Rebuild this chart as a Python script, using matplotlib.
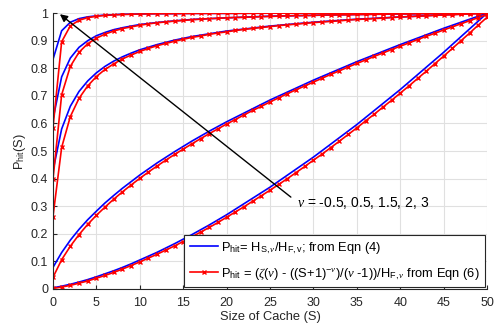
import matplotlib.pyplot as plt
import numpy as np

plt.rcParams['font.family'] = ['Liberation Sans', 'DejaVu Sans']
plt.rcParams['mathtext.fontset'] = 'custom'
plt.rcParams['mathtext.rm'] = 'Liberation Sans'
plt.rcParams['mathtext.it'] = 'Liberation Serif:italic'

# cache sizes (red markers at every integer S)
s_red = np.arange(0, 51)
# sparser S grid for the exact (blue) curves
s_blue = [0, 1, 2, 3, 4, 5, 6, 7, 8, 9, 10, 12, 14, 16, 18, 20, 25, 30, 35, 40, 45, 50]

# blue: H_{S,nu}/H_{F,nu}
blue_n3 = [0.832, 0.936, 0.967, 0.980, 0.9865, 0.990, 0.993, 0.994, 0.996, 0.996, 0.997,
           0.998, 0.998, 0.999, 0.999, 0.999, 1.0, 1.0, 1.0, 1.0, 1.0, 1.0]
blue_n2 = [0.615, 0.769, 0.837, 0.876, 0.900, 0.918, 0.930, 0.940, 0.947, 0.953, 0.9585,
           0.966, 0.972, 0.977, 0.980, 0.983, 0.989, 0.992, 0.995, 0.997, 0.999, 1.0]
blue_n15 = [0.4285, 0.580, 0.6625, 0.716, 0.754, 0.7835, 0.807, 0.826, 0.8415, 0.855, 0.867,
            0.886, 0.902, 0.915, 0.925, 0.935, 0.953, 0.967, 0.978, 0.986, 0.994, 1.0]
blue_n05 = [0.078, 0.132, 0.177, 0.216, 0.251, 0.282, 0.312, 0.339, 0.365, 0.389, 0.413,
            0.457, 0.4975, 0.536, 0.572, 0.606, 0.685, 0.757, 0.824, 0.886, 0.945, 1.0]
blue_nm05 = [0.004, 0.010, 0.017, 0.025, 0.034, 0.044, 0.055, 0.066, 0.078, 0.091, 0.105,
             0.133, 0.164, 0.197, 0.232, 0.269, 0.369, 0.478, 0.596, 0.723, 0.858, 1.0]

# red: approximation from Eqn (6), one value per integer S
red_n3 = [0.584, 0.896, 0.954, 0.974, 0.9835, 0.9886, 0.9917, 0.9937, 0.995, 0.996,
          0.9967, 0.9973, 0.9977, 0.998, 0.9983, 0.9985, 0.9987, 0.9989, 0.999, 0.9991,
          0.9992, 0.9993, 0.9994, 0.9994, 0.9995, 0.9996, 0.9996, 0.9997, 0.9997, 0.9997,
          0.9998, 0.9998, 0.9998, 0.9998, 0.9998, 0.9998, 0.9999, 0.9999, 0.9999, 0.9999,
          0.9999, 0.9999, 0.9999, 0.9999, 0.9999, 0.9999, 1.0, 1.0, 1.0, 1.0, 1.0]
red_n2 = [0.397, 0.704, 0.807, 0.858, 0.889, 0.909, 0.924, 0.935, 0.944, 0.950,
          0.956, 0.961, 0.965, 0.968, 0.971, 0.9735, 0.976, 0.978, 0.980, 0.981,
          0.983, 0.984, 0.985, 0.986, 0.987, 0.988, 0.989, 0.990, 0.991, 0.991,
          0.992, 0.993, 0.993, 0.994, 0.994, 0.995, 0.995, 0.996, 0.996, 0.997,
          0.997, 0.997, 0.998, 0.998, 0.998, 0.999, 0.999, 0.999, 0.999, 1.0, 1.0]
red_n15 = [0.262, 0.513, 0.625, 0.691, 0.736, 0.770, 0.796, 0.816, 0.834, 0.848,
           0.861, 0.872, 0.882, 0.890, 0.898, 0.905, 0.912, 0.917, 0.923, 0.928,
           0.932, 0.937, 0.941, 0.9445, 0.948, 0.951, 0.9545, 0.9575, 0.960, 0.963,
           0.9655, 0.968, 0.970, 0.972, 0.975, 0.977, 0.9785, 0.980, 0.982, 0.984,
           0.986, 0.987, 0.989, 0.990, 0.992, 0.993, 0.994, 0.996, 0.997, 0.998, 0.999]
red_n05 = [0.042, 0.106, 0.155, 0.197, 0.234, 0.267, 0.297, 0.3255, 0.352, 0.377,
           0.401, 0.424, 0.446, 0.467, 0.4875, 0.507, 0.526, 0.545, 0.563, 0.5805,
           0.598, 0.614, 0.631, 0.647, 0.662, 0.678, 0.693, 0.708, 0.722, 0.736,
           0.750, 0.764, 0.778, 0.791, 0.8045, 0.8175, 0.830, 0.843, 0.8555, 0.868,
           0.880, 0.892, 0.904, 0.916, 0.927, 0.939, 0.950, 0.9615, 0.9725, 0.984, 0.995]
red_nm05 = [0.002, 0.007, 0.013, 0.021, 0.029, 0.039, 0.049, 0.060, 0.072, 0.085,
            0.098, 0.112, 0.126, 0.141, 0.156, 0.172, 0.189, 0.206, 0.223, 0.241,
            0.260, 0.279, 0.298, 0.318, 0.338, 0.358, 0.379, 0.400, 0.422, 0.444,
            0.467, 0.489, 0.5125, 0.536, 0.560, 0.584, 0.609, 0.6335, 0.659, 0.684,
            0.710, 0.736, 0.763, 0.7895, 0.817, 0.844, 0.872, 0.900, 0.928, 0.957, 0.985]

blues = [blue_n3, blue_n2, blue_n15, blue_n05, blue_nm05]
reds = [red_n3, red_n2, red_n15, red_n05, red_nm05]

lbl_blue = r'P$_{\mathrm{hit}}$= H$_{\mathrm{S,}\mathit{\nu}}$/H$_{\mathrm{F,v}}$; from Eqn (4)'
lbl_red = (r'P$_{\mathrm{hit}}$ = ($\mathit{\zeta}$($\mathit{\nu}$) - ((S+1)$^{\mathrm{-}\mathit{\nu}}$)'
           r'/($\mathit{\nu}$ -1))/H$_{\mathrm{F,}\mathit{\nu}}$ from Eqn (6)')

fig = plt.figure(figsize=(4.95, 3.28), dpi=100)
ax = fig.add_axes([0.107, 0.119, 0.877, 0.841])

for i in range(5):
    ax.plot(s_blue, blues[i], color='#0000ff', lw=1.2,
            label=lbl_blue if i == 0 else None)
for i in range(5):
    ax.plot(s_red, reds[i], color='#ff0000', lw=1.2, marker='x', ms=3.5, mew=1.0,
            label=lbl_red if i == 0 else None)

ax.annotate('', xy=(0.8, 0.996), xytext=(27.4, 0.333),
            arrowprops=dict(arrowstyle='-|>', color='black', lw=1.0,
                            shrinkA=0, shrinkB=0, mutation_scale=11))
ax.text(28.1, 0.312, r'$\mathit{\nu}$ = -0.5, 0.5, 1.5, 2, 3', fontsize=10,
        va='center', ha='left')

ax.set_xlim(0, 50)
ax.set_ylim(0, 1)
ax.set_xticks(np.arange(0, 51, 5))
ax.set_yticks(np.arange(0, 1.01, 0.1))
ax.set_yticklabels(['0', '0.1', '0.2', '0.3', '0.4', '0.5', '0.6', '0.7', '0.8', '0.9', '1'])
ax.grid(True, color='#e0e0e0', lw=0.8)
ax.set_axisbelow(True)
for side in ['top', 'right']:
    ax.spines[side].set_visible(False)
for side in ['left', 'bottom']:
    ax.spines[side].set_color('#262626')
ax.tick_params(direction='in', labelsize=9, colors='#262626', length=3)
ax.tick_params(axis='x', pad=6)
ax.set_xlabel('Size of Cache (S)', fontsize=9.3, color='#262626', labelpad=1)
ax.set_ylabel(r'P$_{\mathrm{hit}}$(S)', fontsize=9.3, color='#262626', labelpad=2)

leg = ax.legend(loc='lower right', fontsize=9.3, frameon=True, fancybox=False,
                edgecolor='#262626', handlelength=2.2, handletextpad=0.25,
                borderpad=0.4, borderaxespad=0.15, framealpha=1, labelspacing=0.8)
leg.get_frame().set_linewidth(0.8)

fig.savefig('out.png', dpi=100)
